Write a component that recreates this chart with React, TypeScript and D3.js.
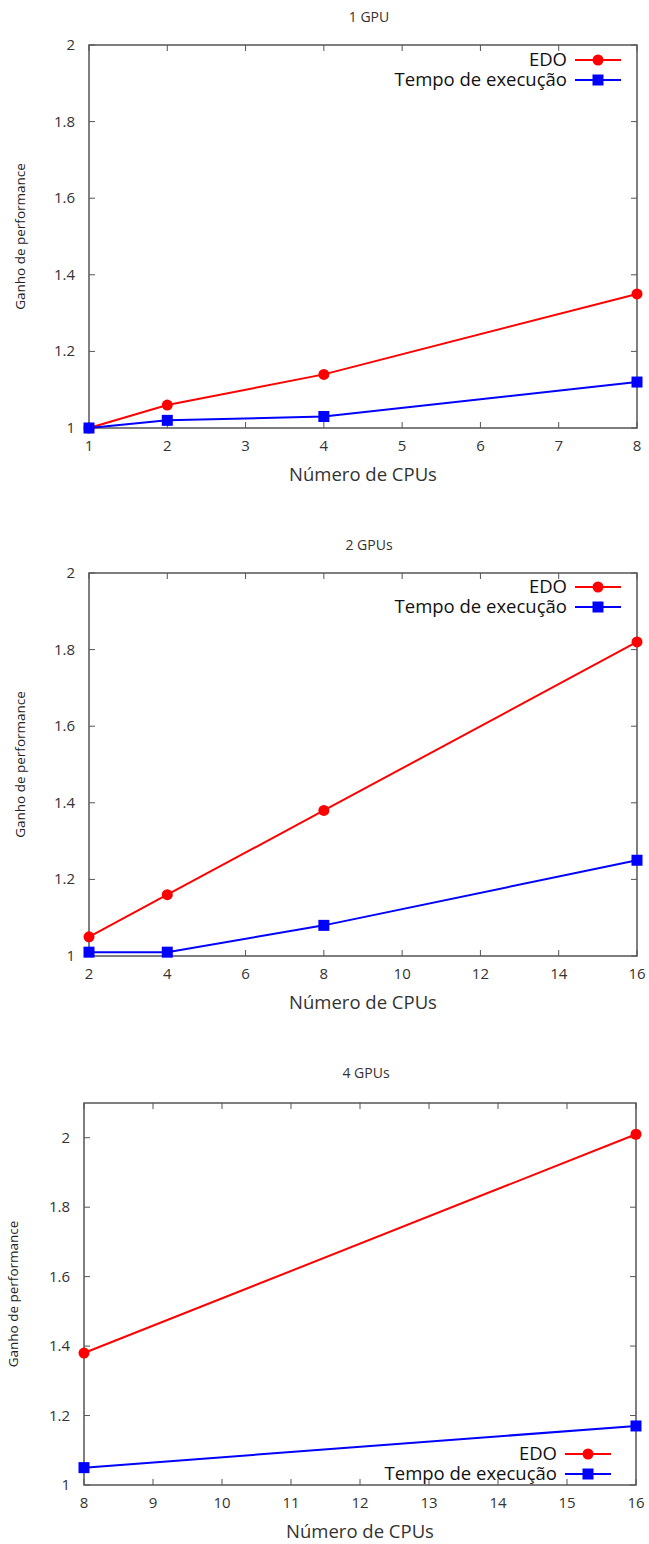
import React from 'react';
import { scaleLinear, line } from 'd3';

// 1 GPU
const cpus1 = [1, 2, 4, 8];
const edo1 = [1.0, 1.06, 1.14, 1.35];
const tempo1 = [1.0, 1.02, 1.03, 1.12];
const xTicks1 = [1, 2, 3, 4, 5, 6, 7, 8];

// 2 GPUs
const cpus2 = [2, 4, 8, 16];
const edo2 = [1.05, 1.16, 1.38, 1.82];
const tempo2 = [1.01, 1.01, 1.08, 1.25];
const xTicks2 = [2, 4, 6, 8, 10, 12, 14, 16];

// 4 GPUs
const cpus4 = [8, 16];
const edo4 = [1.38, 2.01];
const tempo4 = [1.05, 1.17];
const xTicks4 = [8, 9, 10, 11, 12, 13, 14, 15, 16];

const yTicks = [1, 1.2, 1.4, 1.6, 1.8, 2];

const titles = ['1 GPU', '2 GPUs', '4 GPUs'];
const xLabel = 'Número de CPUs';
const yLabel = 'Ganho de performance';
const seriesNames = ['EDO', 'Tempo de execução'];

const RED = '#ff0000';
const BLUE = '#0000ff';
const AXIS = '#555';
const TEXT = '#333';
const FONT = "'Open Sans', 'DejaVu Sans', sans-serif";

type PanelProps = {
  top: number;
  left: number;
  right: number;
  plotTop: number;
  plotBottom: number;
  yMax: number;
  title: string;
  xs: number[];
  edo: number[];
  tempo: number[];
  xTicks: number[];
  legendY: number;
  legendX: number;
  yLabelX: number;
};

function Panel(p: PanelProps) {
  const x = scaleLinear()
    .domain([p.xTicks[0], p.xTicks[p.xTicks.length - 1]])
    .range([p.left, p.right]);
  const y = scaleLinear().domain([1, p.yMax]).range([p.plotBottom, p.plotTop]);

  const mk = line<number>()
    .x((_, i) => x(p.xs[i]))
    .y((d) => y(d));

  const tick = 6;
  const midX = (p.left + p.right) / 2;
  const midY = (p.plotTop + p.plotBottom) / 2;

  return (
    <g>
      <text x={midX + 6} y={p.top + 22} textAnchor="middle" fontSize={14} fill={TEXT} fontFamily={FONT}>
        {p.title}
      </text>

      {/* ticks on all sides */}
      {p.xTicks.map((t) => (
        <g key={'x' + t}>
          <line x1={x(t)} x2={x(t)} y1={p.plotBottom} y2={p.plotBottom - tick} stroke={AXIS} />
          <line x1={x(t)} x2={x(t)} y1={p.plotTop} y2={p.plotTop + tick} stroke={AXIS} />
          <text x={x(t)} y={p.plotBottom + 23} textAnchor="middle" fontSize={15} fill={TEXT} fontFamily={FONT}>
            {t}
          </text>
        </g>
      ))}
      {yTicks.map((t) => (
        <g key={'y' + t}>
          <line x1={p.left} x2={p.left + tick} y1={y(t)} y2={y(t)} stroke={AXIS} />
          <line x1={p.right} x2={p.right - tick} y1={y(t)} y2={y(t)} stroke={AXIS} />
          <text x={p.left - 14} y={y(t) + 5} textAnchor="end" fontSize={15} fill={TEXT} fontFamily={FONT}>
            {String(t)}
          </text>
        </g>
      ))}

      <rect
        x={p.left}
        y={p.plotTop}
        width={p.right - p.left}
        height={p.plotBottom - p.plotTop}
        fill="none"
        stroke={AXIS}
        strokeWidth={1.5}
      />

      <text x={midX} y={p.plotBottom + 53} textAnchor="middle" fontSize={18.5} fill={TEXT} fontFamily={FONT}>
        {xLabel}
      </text>
      <text
        transform={`translate(${p.yLabelX},${midY}) rotate(-90)`}
        textAnchor="middle"
        fontSize={13.5}
        fill="#222"
        fontFamily={FONT}
      >
        {yLabel}
      </text>

      {/* series */}
      <path d={mk(p.edo) || ''} fill="none" stroke={RED} strokeWidth={2} />
      <path d={mk(p.tempo) || ''} fill="none" stroke={BLUE} strokeWidth={2} />
      {p.edo.map((v, i) => (
        <circle key={'e' + i} cx={x(p.xs[i])} cy={y(v)} r={5.5} fill={RED} />
      ))}
      {p.tempo.map((v, i) => (
        <rect key={'t' + i} x={x(p.xs[i]) - 5.5} y={y(v) - 5.5} width={11} height={11} fill={BLUE} />
      ))}

      {/* legend */}
      {seriesNames.map((n, i) => {
        const ly = p.legendY + i * 20;
        const c = i === 0 ? RED : BLUE;
        return (
          <g key={n}>
            <text x={p.legendX} y={ly + 6} textAnchor="end" fontSize={18.5} fill="#111" fontFamily={FONT}>
              {n}
            </text>
            <line x1={p.legendX + 8} x2={p.legendX + 54} y1={ly} y2={ly} stroke={c} strokeWidth={2} />
            {i === 0 ? (
              <circle cx={p.legendX + 31} cy={ly} r={5.5} fill={c} />
            ) : (
              <rect x={p.legendX + 25.5} y={ly - 5.5} width={11} height={11} fill={c} />
            )}
          </g>
        );
      })}
    </g>
  );
}

export default function App() {
  return (
    <svg
      width={649}
      height={1544}
      style={{ position: 'absolute', left: 0, top: 0, background: '#fff' }}
    >
      <rect width={649} height={1544} fill="#fff" />
      <Panel
        top={0}
        left={89}
        right={637}
        plotTop={45}
        plotBottom={428}
        yMax={2}
        title={titles[0]}
        xs={cpus1}
        edo={edo1}
        tempo={tempo1}
        xTicks={xTicks1}
        legendY={60}
        legendX={567}
        yLabelX={25}
      />
      <Panel
        top={528}
        left={89}
        right={637}
        plotTop={573}
        plotBottom={956}
        yMax={2}
        title={titles[1]}
        xs={cpus2}
        edo={edo2}
        tempo={tempo2}
        xTicks={xTicks2}
        legendY={587}
        legendX={567}
        yLabelX={25}
      />
      <Panel
        top={1056}
        left={84}
        right={636}
        plotTop={1103}
        plotBottom={1485}
        yMax={2.1}
        title={titles[2]}
        xs={cpus4}
        edo={edo4}
        tempo={tempo4}
        xTicks={xTicks4}
        legendY={1454}
        legendX={557}
        yLabelX={18}
      />
    </svg>
  );
}
